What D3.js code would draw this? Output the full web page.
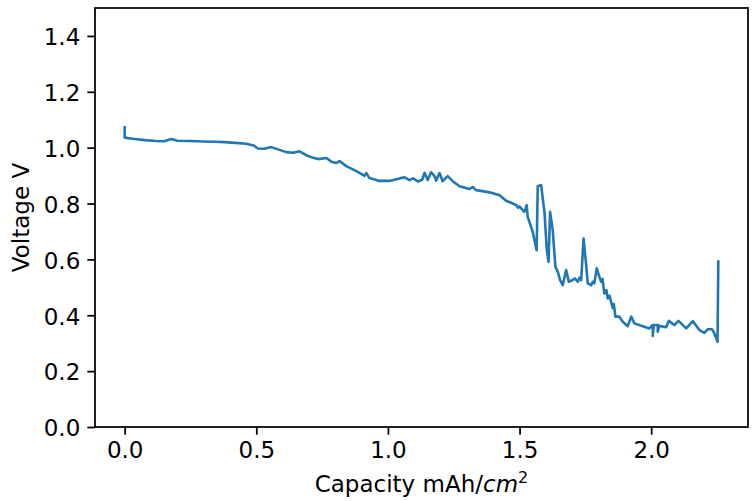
<!DOCTYPE html>
<html>
<head>
<meta charset="utf-8">
<script src="https://cdn.jsdelivr.net/npm/d3@7"></script>
<style>
  body { margin: 0; background: #fff; }
  svg { font-family: "DejaVu Sans", sans-serif; }
</style>
</head>
<body>
<svg class="graph"></svg>
<script>
// capacity (mAh/cm^2) and voltage (V)
const capacity = [
  0.000, 0.000, 0.030, 0.076, 0.120, 0.150, 0.177, 0.200, 0.250, 0.296,
  0.340, 0.380, 0.420, 0.462, 0.490, 0.506, 0.530, 0.557, 0.585, 0.614,
  0.640, 0.664, 0.690, 0.709, 0.734, 0.766, 0.785, 0.804, 0.816, 0.842,
  0.880, 0.900, 0.911, 0.918, 0.930, 0.968, 1.006, 1.044, 1.063, 1.082,
  1.095, 1.114, 1.130, 1.139, 1.151, 1.164, 1.177, 1.183, 1.196, 1.208,
  1.227, 1.246, 1.272, 1.310, 1.322, 1.335, 1.386, 1.424, 1.449, 1.470,
  1.487, 1.495, 1.500, 1.512, 1.518, 1.522, 1.527, 1.531, 1.550, 1.565,
  1.569, 1.582, 1.595, 1.603, 1.610, 1.616, 1.626, 1.636, 1.645, 1.654,
  1.664, 1.677, 1.687, 1.702, 1.710, 1.721, 1.728, 1.734, 1.743, 1.753,
  1.759, 1.772, 1.778, 1.784, 1.793, 1.803, 1.810, 1.815, 1.822, 1.830,
  1.835, 1.842, 1.848, 1.854, 1.858, 1.864, 1.879, 1.892, 1.911, 1.924,
  1.936, 1.968, 1.993, 2.006, 2.006, 2.010, 2.025, 2.025, 2.030, 2.057,
  2.067, 2.088, 2.104, 2.133, 2.158, 2.183, 2.202, 2.215, 2.231, 2.240,
  2.252, 2.255
];
const voltage = [
  1.078, 1.036, 1.032, 1.027, 1.024, 1.023, 1.031, 1.025, 1.024, 1.022,
  1.021, 1.020, 1.017, 1.014, 1.008, 0.997, 0.996, 1.002, 0.993, 0.984,
  0.982, 0.987, 0.973, 0.966, 0.959, 0.963, 0.950, 0.945, 0.952, 0.934,
  0.916, 0.905, 0.899, 0.909, 0.891, 0.881, 0.881, 0.890, 0.894, 0.884,
  0.890, 0.879, 0.885, 0.910, 0.884, 0.912, 0.898, 0.882, 0.909, 0.880,
  0.898, 0.880, 0.862, 0.852, 0.859, 0.848, 0.840, 0.830, 0.810, 0.802,
  0.794, 0.785, 0.790, 0.776, 0.770, 0.780, 0.794, 0.752, 0.699, 0.633,
  0.862, 0.866, 0.765, 0.639, 0.591, 0.770, 0.705, 0.574, 0.556, 0.526,
  0.508, 0.562, 0.520, 0.526, 0.532, 0.520, 0.535, 0.526, 0.675, 0.580,
  0.514, 0.508, 0.520, 0.514, 0.568, 0.538, 0.520, 0.530, 0.478, 0.490,
  0.460, 0.470, 0.448, 0.425, 0.440, 0.395, 0.395, 0.377, 0.361, 0.395,
  0.371, 0.361, 0.353, 0.365, 0.326, 0.365, 0.365, 0.341, 0.362, 0.357,
  0.380, 0.365, 0.380, 0.353, 0.379, 0.347, 0.337, 0.350, 0.350, 0.335,
  0.305, 0.597
];
const xTicks = [0.0, 0.5, 1.0, 1.5, 2.0];
const yTicks = [0.0, 0.2, 0.4, 0.6, 0.8, 1.0, 1.2, 1.4];

const width = 752;
const height = 501;
const margin = { top: 8, right: 4, bottom: 74, left: 95 };
const innerWidth = width - margin.left - margin.right;
const innerHeight = height - margin.top - margin.bottom;

const svg = d3.select('.graph')
  .attr('width', width)
  .attr('height', height);

const g = svg.append('g')
  .attr('transform', `translate(${margin.left}, ${margin.top})`);

// matplotlib style 5% margins on x
const xMin = d3.min(capacity), xMax = d3.max(capacity);
const pad = (xMax - xMin) * 0.05;
const x = d3.scaleLinear().domain([xMin - pad, xMax + pad]).range([0, innerWidth]);
const y = d3.scaleLinear().domain([0, 1.5]).range([innerHeight, 0]);

const points = capacity.map((c, i) => [c, voltage[i]]);

g.append('path')
  .datum(points)
  .attr('fill', 'none')
  .attr('stroke', '#1f77b4')
  .attr('stroke-width', 2.6)
  .attr('stroke-linejoin', 'round')
  .attr('d', d3.line().x(d => x(d[0])).y(d => y(d[1])));

const xAxis = g.append('g')
  .attr('transform', `translate(0, ${innerHeight})`)
  .call(d3.axisBottom(x).tickValues(xTicks).tickFormat(d3.format('.1f')).tickSize(7.7).tickPadding(6).tickSizeOuter(0));

const yAxis = g.append('g')
  .call(d3.axisLeft(y).tickValues(yTicks).tickFormat(d3.format('.1f')).tickSize(7.7).tickPadding(7).tickSizeOuter(0));

[xAxis, yAxis].forEach(ax => {
  ax.attr('font-size', null).attr('font-family', null);
  ax.select('.domain').remove();
  ax.selectAll('line').attr('stroke', '#000').attr('stroke-width', 1.75);
  ax.selectAll('text').attr('fill', '#000').style('font-size', '23px');
});
xAxis.selectAll('text').attr('dy', '0.76em');
yAxis.selectAll('text').attr('dy', '0.38em');

// frame
g.append('rect')
  .attr('width', innerWidth)
  .attr('height', innerHeight)
  .attr('fill', 'none')
  .attr('stroke', '#000')
  .attr('stroke-width', 1.75);

const xLabel = svg.append('text')
  .attr('x', margin.left + innerWidth / 2)
  .attr('y', 492)
  .attr('text-anchor', 'middle')
  .style('font-size', '23px');
xLabel.append('tspan').text('Capacity mAh/');
xLabel.append('tspan').attr('font-style', 'italic').text('cm');
xLabel.append('tspan').style('font-size', '16px').attr('dy', '-9').text('2');

svg.append('text')
  .attr('transform', `translate(29, ${margin.top + innerHeight / 2}) rotate(-90)`)
  .attr('text-anchor', 'middle')
  .style('font-size', '23px')
  .text('Voltage V');
</script>
</body>
</html>
